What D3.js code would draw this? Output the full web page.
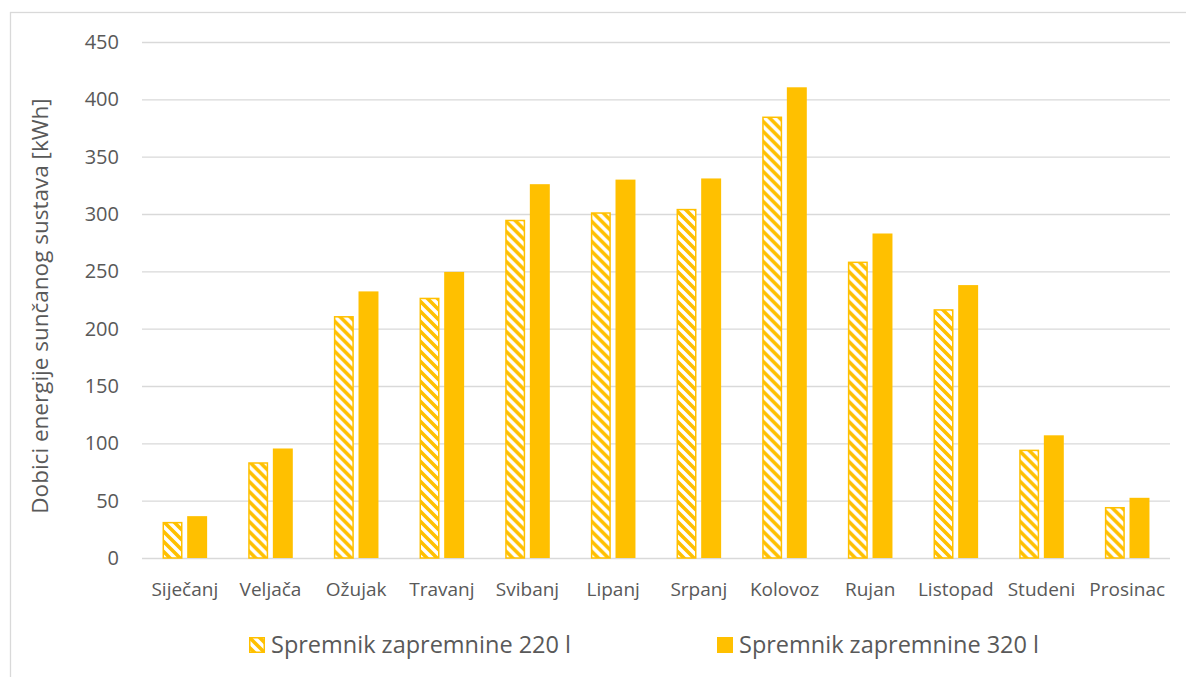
<!DOCTYPE html>
<html>
<head>
<meta charset="utf-8">
<script src="https://cdn.jsdelivr.net/npm/d3@7"></script>
<style>
  body { margin: 0; background: #fff; }
  text { font-family: "Open Sans", sans-serif; fill: #595959; }
</style>
</head>
<body>
<div id="chart"></div>
<script>
// data
var months = ["Siječanj", "Veljača", "Ožujak", "Travanj", "Svibanj", "Lipanj",
              "Srpanj", "Kolovoz", "Rujan", "Listopad", "Studeni", "Prosinac"];
var seriesNames = ["Spremnik zapremnine 220 l", "Spremnik zapremnine 320 l"];
var tank220 = [31.5, 83.5, 211, 227, 295, 301.5, 304.5, 385, 258.5, 217, 94.5, 44.5];
var tank320 = [36.5, 95.5, 232.5, 249.5, 326, 330, 331, 410.5, 283, 238, 107, 52.5];
var yTicks = [0, 50, 100, 150, 200, 250, 300, 350, 400, 450];
var yTitle = "Dobici energije sunčanog sustava [kWh]";

var svgWidth = 1186;
var svgHeight = 677;
var gold = "#FFC000";

// plot area inside the svg
var plot = { left: 142, right: 1170, top: 42, bottom: 558 };

var svg = d3.select("#chart")
  .append("svg")
  .attr("width", svgWidth)
  .attr("height", svgHeight);

// hatch pattern for the 220 l series
var defs = svg.append("defs");
var pat = defs.append("pattern")
  .attr("id", "hatch")
  .attr("patternUnits", "userSpaceOnUse")
  .attr("width", 10)
  .attr("height", 10);
pat.append("rect").attr("width", 10).attr("height", 10).attr("fill", "#fff");
pat.append("path")
  .attr("d", "M0,0 L10,10 M-5,5 L5,15 M5,-5 L15,5")
  .attr("stroke", gold)
  .attr("stroke-width", 3.6);

// chart border (runs off the right and bottom edge)
svg.append("rect")
  .attr("x", 10.5).attr("y", 12.5)
  .attr("width", 1300).attr("height", 800)
  .attr("fill", "none")
  .attr("stroke", "#d9d9d9")
  .attr("stroke-width", 1.3);

var x0 = d3.scaleBand()
  .domain(months)
  .range([plot.left, plot.right])
  .padding(0);

var x1 = d3.scaleBand()
  .domain([0, 1])
  .range([x0.bandwidth() / 2 - 22.3, x0.bandwidth() / 2 + 22.3])
  .paddingInner(0.19);

var y = d3.scaleLinear()
  .domain([0, 450])
  .range([plot.bottom, plot.top]);

// gridlines + tick labels
var yAxis = d3.axisLeft(y)
  .tickValues(yTicks)
  .tickSize(-(plot.right - plot.left))
  .tickPadding(23)
  .tickFormat(d3.format("d"));

var gy = svg.append("g")
  .attr("transform", `translate(${plot.left},0)`)
  .call(yAxis);
gy.select(".domain").remove();
gy.selectAll(".tick line").attr("stroke", "#d9d9d9").attr("stroke-width", 1.3);
gy.selectAll(".tick text").attr("font-size", 20).attr("fill", "#595959");

// bars
var rows = months.map(function(m, i) { return { month: m, vals: [tank220[i], tank320[i]] }; });

var groups = svg.selectAll(".month")
  .data(rows)
  .enter()
  .append("g")
  .attr("class", "month")
  .attr("transform", d => `translate(${x0(d.month)},0)`);

groups.selectAll("rect")
  .data(d => d.vals.map(function(v, k) { return { k: k, v: v }; }))
  .enter()
  .append("rect")
  .attr("x", d => x1(d.k) + (d.k === 0 ? 0.75 : 0))
  .attr("y", d => y(d.v) + (d.k === 0 ? 0.75 : 0))
  .attr("width", d => x1.bandwidth() - (d.k === 0 ? 1.5 : 0))
  .attr("height", d => y(0) - y(d.v) - (d.k === 0 ? 0.75 : 0))
  .attr("fill", d => d.k === 0 ? "url(#hatch)" : gold)
  .attr("stroke", d => d.k === 0 ? gold : "none")
  .attr("stroke-width", 1.5);

// x axis labels
var xAxis = d3.axisBottom(x0).tickSize(0).tickPadding(25);
var gx = svg.append("g")
  .attr("transform", `translate(0,${plot.bottom})`)
  .call(xAxis);
gx.select(".domain").remove();
gx.selectAll(".tick text").attr("font-size", 19).attr("fill", "#595959");

// y axis title
svg.append("text")
  .attr("transform", `translate(48,${(plot.top + plot.bottom) / 2 + 6}) rotate(-90)`)
  .attr("text-anchor", "middle")
  .attr("font-size", 22.5)
  .text(yTitle);

// legend
var legendX = [249, 717];
var legend = svg.selectAll(".legend")
  .data(seriesNames)
  .enter()
  .append("g")
  .attr("class", "legend")
  .attr("transform", (d, i) => `translate(${legendX[i]},637)`);

legend.append("rect")
  .attr("x", (d, i) => i === 0 ? 0.75 : 0)
  .attr("y", (d, i) => i === 0 ? 0.75 : 0)
  .attr("width", (d, i) => i === 0 ? 14.5 : 16)
  .attr("height", (d, i) => i === 0 ? 14.5 : 16)
  .attr("fill", (d, i) => i === 0 ? "url(#hatch)" : gold)
  .attr("stroke", (d, i) => i === 0 ? gold : "none")
  .attr("stroke-width", 1.5);

legend.append("text")
  .attr("x", 22)
  .attr("y", 8)
  .attr("dy", "0.35em")
  .attr("font-size", 23.5)
  .text(d => d);
</script>
</body>
</html>
